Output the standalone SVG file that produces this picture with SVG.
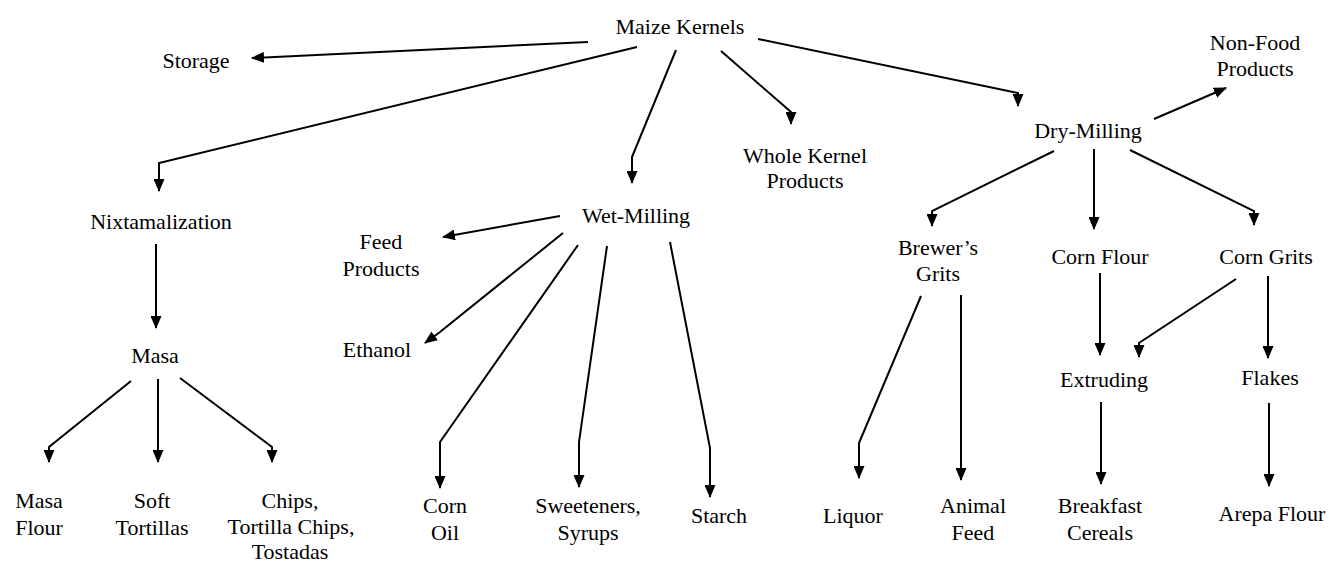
<svg xmlns="http://www.w3.org/2000/svg" width="1329" height="562" viewBox="0 0 1329 562">
<style>
text{font-family:"Liberation Serif",Tinos,"Times New Roman","DejaVu Serif",serif;font-size:22px;fill:#000;text-anchor:middle}
.c path{fill:none;stroke:#000;stroke-width:2;marker-end:url(#ah)}
</style>
<defs>
<marker id="ah" markerUnits="userSpaceOnUse" viewBox="0 0 13 11" markerWidth="13" markerHeight="11" refX="12" refY="5.5" orient="auto">
<path d="M0,0 L13,5.5 L0,11 z" fill="#000"/>
</marker>
</defs>
<rect width="1329" height="562" fill="#fff"/>
<g class="c" id="connectors">
<path d="M588,42 L252,58"/>
<path d="M637,47 L159,163 L159,191"/>
<path d="M676,50 L632,157 L632,183"/>
<path d="M721,51 L791,112 L791,124"/>
<path d="M758,39 L1018,93 L1018,106"/>
<path d="M1154,119 L1226,88"/>
<path d="M1054,151 L932,211 L932,226"/>
<path d="M1094,149 L1094,229"/>
<path d="M1130,150 L1254,211 L1254,225"/>
<path d="M921,296 L859,443 L859,478"/>
<path d="M961,295 L961,480"/>
<path d="M1100,273 L1100,355"/>
<path d="M1236,279 L1139,343 L1139,357"/>
<path d="M1268,276 L1268,358"/>
<path d="M1101,402 L1101,484"/>
<path d="M1269,403 L1269,486"/>
<path d="M156,244 L156,328"/>
<path d="M131,381 L49,447 L49,462"/>
<path d="M158,379 L158,462"/>
<path d="M180,378 L272,447 L272,462"/>
<path d="M560,216 L443,237"/>
<path d="M563,233 L440,332 L425,343"/>
<path d="M578,245 L440,442 L440,488"/>
<path d="M607,246 L579,442 L579,487"/>
<path d="M670,242 L710,448 L710,497"/>
</g>
<g id="maize"><text x="680" y="34">Maize Kernels</text></g>
<g id="storage"><text x="196" y="68">Storage</text></g>
<g id="nixtamalization"><text x="161" y="229">Nixtamalization</text></g>
<g id="masa"><text x="155" y="363">Masa</text></g>
<g id="masa-flour"><text x="39" y="508">Masa</text><text x="39" y="535">Flour</text></g>
<g id="soft-tortillas"><text x="152" y="508">Soft</text><text x="152" y="535">Tortillas</text></g>
<g id="chips"><text x="290" y="508">Chips,</text><text x="291" y="534">Tortilla Chips,</text><text x="290" y="559">Tostadas</text></g>
<g id="wet-milling"><text x="636" y="223">Wet-Milling</text></g>
<g id="feed-products"><text x="381" y="249">Feed</text><text x="381" y="276">Products</text></g>
<g id="ethanol"><text x="377" y="357">Ethanol</text></g>
<g id="corn-oil"><text x="445" y="513">Corn</text><text x="445" y="540">Oil</text></g>
<g id="sweeteners"><text x="588" y="513">Sweeteners,</text><text x="588" y="540">Syrups</text></g>
<g id="starch"><text x="719" y="523">Starch</text></g>
<g id="whole-kernel"><text x="805" y="163">Whole Kernel</text><text x="805" y="188">Products</text></g>
<g id="dry-milling"><text x="1088" y="138">Dry-Milling</text></g>
<g id="non-food"><text x="1255" y="50">Non-Food</text><text x="1255" y="76">Products</text></g>
<g id="brewers-grits"><text x="938" y="255">Brewer’s</text><text x="938" y="281">Grits</text></g>
<g id="corn-flour"><text x="1100" y="264">Corn Flour</text></g>
<g id="corn-grits"><text x="1266" y="264">Corn Grits</text></g>
<g id="extruding"><text x="1104" y="387">Extruding</text></g>
<g id="flakes"><text x="1270" y="385">Flakes</text></g>
<g id="liquor"><text x="853" y="523">Liquor</text></g>
<g id="animal-feed"><text x="973" y="513">Animal</text><text x="973" y="540">Feed</text></g>
<g id="breakfast"><text x="1100" y="513">Breakfast</text><text x="1100" y="540">Cereals</text></g>
<g id="arepa"><text x="1272" y="521">Arepa Flour</text></g>
</svg>
